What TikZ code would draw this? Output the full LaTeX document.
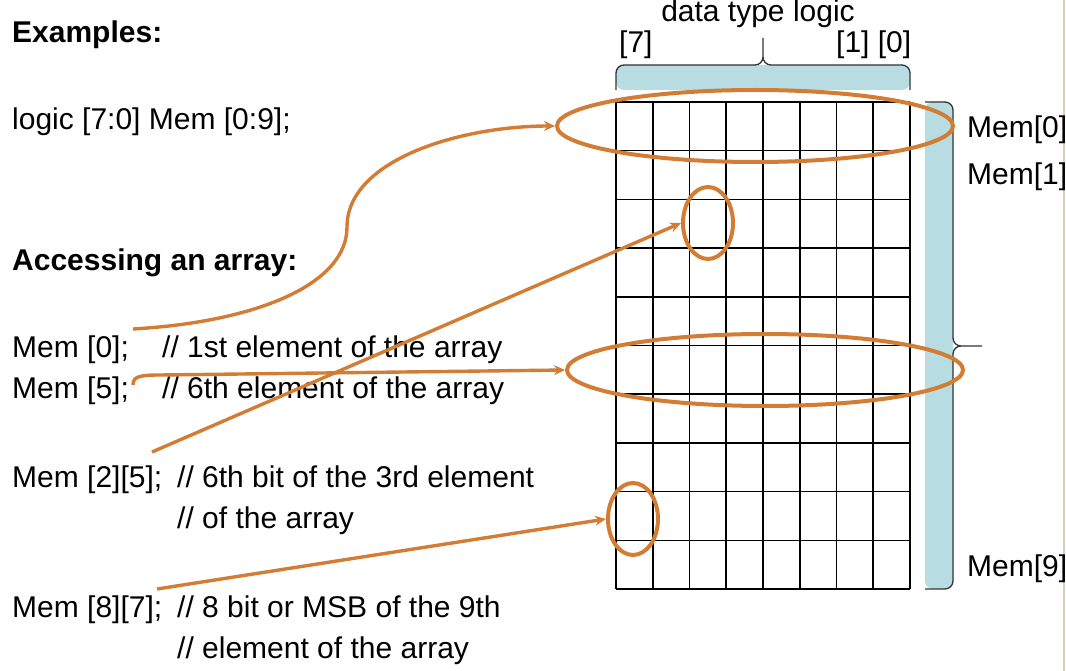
\documentclass[tikz,border=0pt]{standalone}
\usepackage{fontspec}
\setmainfont{Liberation Sans}
\usetikzlibrary{shapes.geometric,arrows.meta}

\definecolor{hlorange}{RGB}{210,124,52}
\definecolor{bracefill}{RGB}{183,221,226}
\definecolor{edgecol}{RGB}{218,205,180}

\tikzset{
  txt/.style={anchor=base west, inner sep=0pt},
  ring/.style={draw=hlorange, line width=4pt, ellipse, inner sep=0pt},
  pointer/.style={draw=hlorange, line width=3.4pt, -{Stealth[length=11pt,width=10pt]}},
  gridline/.style={line width=1.6pt},
  bracestroke/.style={draw=black!80, line width=1.3pt, rounded corners=8pt}
}

\begin{document}
\begin{tikzpicture}[x=1pt, y=-1pt, font=\fontsize{30}{35}\selectfont]
        \useasboundingbox (0,0) rectangle (1066,671);
        \draw[edgecol, line width=1.5pt] (1064,0) -- (1064,671);
        % braces
        \fill[bracefill, rounded corners=8pt] (616,90) |- (910,65) -- (910,90) -- cycle;
        \fill[bracefill, rounded corners=8pt] (925,102) -| (953,589) -- (925,589) -- cycle;
        \draw[bracestroke] (616,90) |- (763,65) -- (763,38) (763,38) -- (763,65) -| (910,90);
        \draw[bracestroke] (925,102) -| (953,346) -- (982,346) (925,589) -| (953,346) -- (982,346);
        % the array
        \foreach \i in {0,...,8}
            \draw[gridline] ({616+36.75*\i},102) -- ({616+36.75*\i},589);
        \foreach \j in {0,...,10}
            \draw[gridline] (616,{102+48.7*\j}) -- (910,{102+48.7*\j});
        % labels
        \node[anchor=base, inner sep=0pt] (dtype) at (758,22) {data type logic};
        \node[txt] (b7) at (619,53) {[7]};
        \node[txt] (b10) at (836,53) {[1] [0]};
        \node[txt] (m0) at (967,138) {Mem[0]};
        \node[txt] (m1) at (967,185) {Mem[1]};
        \node[txt] (m9) at (967,576) {Mem[9]};
        \node[txt, font=\fontsize{30}{35}\selectfont\bfseries] (ex) at (12,43) {Examples:};
        \node[txt] (decl) at (12,130) {logic [7:0] Mem [0:9];};
        \node[txt, font=\fontsize{30}{35}\selectfont\bfseries] (acc) at (12,271) {Accessing an array:};
        \node[txt] (a0) at (12,357) {Mem [0];};
        \node[txt] (c0) at (162,357) {// 1st element of the array};
        \node[txt] (a5) at (12,398) {Mem [5];};
        \node[txt] (c5) at (162,398) {// 6th element of the array};
        \node[txt] (a25) at (12,487) {Mem [2][5];};
        \node[txt] (c25) at (177,487) {// 6th bit of the 3rd element};
        \node[txt] (c25b) at (177,528) {// of the array};
        \node[txt] (a87) at (12,617) {Mem [8][7];};
        \node[txt] (c87) at (177,617) {// 8 bit or MSB of the 9th};
        \node[txt] (c87b) at (177,658) {// element of the array};
        % highlights
        \node[ring, minimum width=396pt, minimum height=72pt] (row0) at (755,126) {};
        \node[ring, minimum width=396pt, minimum height=72pt] (row5) at (765,370) {};
        \node[ring, minimum width=50pt, minimum height=72pt] (bit25) at (708,223) {};
        \node[ring, minimum width=50pt, minimum height=72pt] (bit87) at (633,519) {};
        % pointers
        \coordinate (s0) at (133,329);
        \coordinate (s5) at (133,385);
        \coordinate (s25) at (152,452);
        \coordinate (s87) at (157,589);
        \draw[pointer] (s0) .. controls (255,322) and (347,285) .. (347,227)
            .. controls (347,160) and (460,126) .. (row0.west);
        \draw[pointer] (s5) .. controls (133,377) and (138,375) .. (160,375) -- (row5.west);
        \draw[pointer] (s25) -- (bit25.west);
        \draw[pointer] (s87) -- (bit87.west);
    \end{tikzpicture}
\end{document}
